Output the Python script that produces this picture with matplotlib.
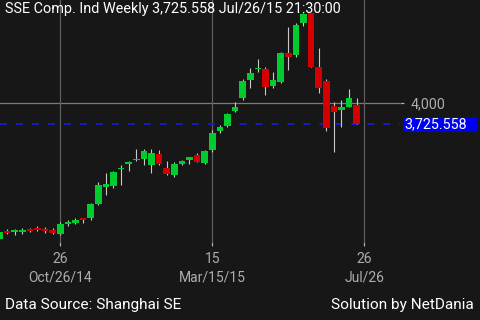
import matplotlib
matplotlib.use("Agg")
import matplotlib.pyplot as plt
from matplotlib.patches import Rectangle
import numpy as np

# weekly candles, SSE Composite
opens = [2222, 2331, 2318, 2324, 2350, 2364, 2357, 2344, 2288, 2419,
         2432, 2497, 2497, 2684, 2910, 2919, 3137, 3210, 3255, 3268,
         3187, 3337, 3148, 3063, 3207, 3261, 3328, 3224, 3390, 3638,
         3707, 3899, 4069, 4305, 4444, 4444, 4226, 4282, 4661, 4631,
         5053, 5176, 4471, 4291, 3969, 3912, 3948, 3978]
highs = [2330, 2353, 2357, 2370, 2370, 2390, 2383, 2370, 2449, 2475,
         2505, 2500, 2697, 2975, 3093, 3119, 3194, 3240, 3403, 3403,
         3399, 3390, 3242, 3229, 3259, 3302, 3344, 3390, 3651, 3716,
         3869, 4013, 4318, 4458, 4575, 4478, 4413, 4674, 4993, 5046,
         5174, 5178, 4719, 4318, 4021, 4043, 4183, 4065]
lows = [2215, 2292, 2285, 2292, 2318, 2331, 2305, 2288, 2279, 2396,
        2425, 2435, 2475, 2671, 2801, 2889, 2932, 3119, 3250, 3194,
        3093, 3194, 3063, 3041, 3194, 3200, 3232, 3207, 3368, 3608,
        3694, 3886, 4043, 4196, 4413, 4109, 4196, 4261, 4435, 4609,
        5010, 4470, 4139, 3638, 3367, 3686, 3948, 3726]
closes = [2322, 2305, 2337, 2337, 2337, 2350, 2331, 2301, 2419, 2445,
          2475, 2475, 2684, 2932, 2941, 3106, 3158, 3237, 3276, 3376,
          3350, 3207, 3073, 3203, 3246, 3294, 3237, 3380, 3616, 3694,
          3860, 3956, 4291, 4392, 4461, 4209, 4305, 4661, 4609, 5023,
          5167, 4478, 4196, 3681, 3882, 3956, 4073, 3725.558]

last_price = 3725.558
grid_price = 4000
tick_pos = [8, 28, 48]
tick_days = ["26", "15", "26"]
tick_dates = ["Oct/26/14", "Mar/15/15", "Jul/26"]

bg = "#171717"
up_col = "#00cc2e"
dn_col = "#d40000"
plt.rcParams["font.family"] = ["Roboto", "DejaVu Sans"]
plt.rcParams["lines.scale_dashes"] = False

fig = plt.figure(figsize=(4.8, 3.2), dpi=100, facecolor=bg)
ax = fig.add_axes([0, 78 / 320, 400 / 480, 242 / 320], facecolor=bg)

x = np.arange(len(opens))
o = np.array(opens, dtype=float)
c = np.array(closes, dtype=float)
up = c >= o
cols = np.where(up, up_col, dn_col)

ax.vlines(x, lows, highs, color="#c8c8c8", linewidth=0.8, zorder=3)
body = np.maximum(np.abs(c - o), 22)
ax.bar(x, body, bottom=np.minimum(o, c), width=0.86, color=cols,
       linewidth=0, zorder=4)

ax.set_xlim(0.066, 52.7)
ax.set_ylim(2187, 5350)

ax.axhline(grid_price, color="#7a7a7a", linewidth=0.9, zorder=1)
ax.axhline(last_price, color="#1a1ad0", linewidth=1.3,
           dashes=(5, 6.5), zorder=2)

ax.set_xticks(tick_pos)
ax.set_xticklabels(tick_days)
ax.grid(axis="x", color="#5e5e5e", linewidth=0.9, zorder=0)
ax.tick_params(axis="x", colors="#adadad", length=3, width=0.9,
               labelsize=10, pad=4.5)
for p, d in zip(tick_pos, tick_dates):
    ax.text(p, -35 / 242, d, transform=ax.get_xaxis_transform(),
            ha="center", va="center", color="#adadad", fontsize=10,
            clip_on=False)

ax.yaxis.tick_right()
ax.set_yticks([grid_price])
ax.set_yticklabels(["4,000"])
ax.tick_params(axis="y", colors="#adadad", length=3, width=0.9,
               labelsize=10.3, pad=5)

for s in ax.spines.values():
    s.set_visible(False)

# blue price tag on the right
ppu = 242 / (5350 - 2187)
ax.add_patch(Rectangle((403 / 400, last_price - 7.5 / ppu), 75 / 400, 15 / ppu,
                       transform=ax.get_yaxis_transform(), facecolor="#0000f0",
                       edgecolor="none", clip_on=False, zorder=5))
ax.text(404 / 400, last_price, "3,725.558", transform=ax.get_yaxis_transform(),
        ha="left", va="center", color="white", fontsize=10.3, clip_on=False,
        zorder=6)

fig.text(5 / 480, 1 - 9 / 320, "SSE Comp. Ind Weekly 3,725.558 Jul/26/15 21:30:00",
         color="white", fontsize=10.35, ha="left", va="center")
fig.text(5 / 480, 1 - 305 / 320, "Data Source: Shanghai SE",
         color="white", fontsize=11.1, ha="left", va="center")
fig.text(474 / 480, 1 - 305 / 320, "Solution by NetDania",
         color="white", fontsize=11.1, ha="right", va="center")

fig.savefig("out.png", dpi=100, facecolor=bg)
